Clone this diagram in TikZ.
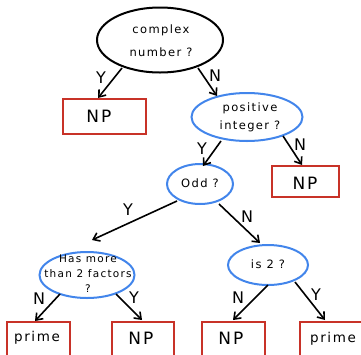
\documentclass[tikz,border=0pt]{standalone}
\usepackage{fontspec}
\setmainfont{DejaVu Sans}
\newfontfamily\hand[LetterSpace=12]{DejaVu Sans}
\usetikzlibrary{shapes.geometric,arrows.meta}
\definecolor{qblue}{RGB}{66,133,235}
\definecolor{boxred}{RGB}{200,50,40}
\tikzset{
  qblack/.style={ellipse,draw=black,line width=2pt,inner sep=0pt},
  qnode/.style={ellipse,draw=qblue,line width=2pt,inner sep=0pt},
  qtext/.style={align=center,inner sep=0pt,font=\hand\fontsize{11.5}{18}\selectfont},
  ans/.style={rectangle,draw=boxred,line width=1.8pt,inner sep=0pt},
  anstext/.style={inner sep=0pt,font=\hand\fontsize{17}{19}\selectfont},
  primetext/.style={inner sep=0pt,font=\hand\fontsize{13.5}{15}\selectfont},
  conn/.style={-{Straight Barb[length=6pt,width=9pt]},line width=1.6pt},
  lbl/.style={font=\fontsize{16}{18}\selectfont}
}
\begin{document}
\begin{tikzpicture}[x=1pt,y=-1pt]
\clip (0,0) rectangle (361,354);
\useasboundingbox (0,0) rectangle (361,354);
% questions
\node[qblack,minimum width=126pt,minimum height=65pt] (c) at (160,40) {};
\node[qtext,font=\hand\fontsize{11.5}{23}\selectfont] (ct) at (161,41) {complex\\number ?};
\node[qnode,minimum width=111pt,minimum height=48pt] (p) at (247,117) {};
\node[qtext] (pt) at (250,117) {positive\\integer ?};
\node[qnode,minimum width=66pt,minimum height=40pt] (o) at (200,184) {};
\node[qtext] (ot) at (200,183) {Odd ?};
\node[qnode,minimum width=95pt,minimum height=46pt] (h) at (87,275) {};
\node[qtext,font=\hand\fontsize{10.5}{15}\selectfont] (ht) at (88,274) {Has more\\than 2 factors\\?};
\node[qnode,minimum width=80pt,minimum height=40pt] (t) at (268,265) {};
\node[qtext] (tt) at (268,264) {is 2 ?};
% answers
\node[ans,minimum width=83pt,minimum height=35pt] (a1) at (104.5,116.5) {};
\node[anstext] (a1t) at (99,116) {NP};
\node[ans,minimum width=67pt,minimum height=31pt] (a2) at (305.5,181.5) {};
\node[anstext] (a2t) at (305,183) {NP};
\node[ans,minimum width=63pt,minimum height=40pt] (b1) at (38.5,342) {};
\node[primetext] (b1t) at (37,338) {prime};
\node[ans,minimum width=62pt,minimum height=40pt] (b2) at (143,342) {};
\node[anstext] (b2t) at (141,338) {NP};
\node[ans,minimum width=63pt,minimum height=40pt] (b3) at (233.5,342) {};
\node[anstext] (b3t) at (231,338) {NP};
\node[ans,minimum width=64pt,minimum height=40pt] (b4) at (332,342) {};
\node[primetext] (b4t) at (333,339) {prime};
% connectors
\coordinate (c1s) at (122,68); \coordinate (c1e) at (98,98);
\coordinate (c2s) at (198,68); \coordinate (c2e) at (217,96);
\coordinate (p1s) at (221,141); \coordinate (p1e) at (203,166);
\coordinate (p2s) at (283,136); \coordinate (p2e) at (302,165);
\coordinate (o1s) at (177,201); \coordinate (o1e) at (92,240);
\coordinate (o2s) at (219,204); \coordinate (o2e) at (260,243);
\coordinate (h1s) at (60,294); \coordinate (h1e) at (35,321);
\coordinate (h2s) at (116,294); \coordinate (h2e) at (142,320);
\coordinate (t1s) at (268,285); \coordinate (t1e) at (233,320);
\coordinate (t2s) at (295,282); \coordinate (t2e) at (325,320);
\draw[conn] (c1s) -- (c1e);
\draw[conn] (c2s) -- (c2e);
\draw[conn] (p1s) -- (p1e);
\draw[conn] (p2s) -- (p2e);
\draw[conn] (o1s) -- (o1e);
\draw[conn] (o2s) -- (o2e);
\draw[conn] (h1s) -- (h1e);
\draw[conn] (h2s) -- (h2e);
\draw[conn] (t1s) -- (t1e);
\draw[conn] (t2s) -- (t2e);
% labels
\node[lbl] (l1) at (101,78) {Y};
\node[lbl] (l2) at (215,76) {N};
\node[lbl] (l3) at (202,149) {Y};
\node[lbl] (l4) at (300,145) {N};
\node[lbl] (l5) at (128,210) {Y};
\node[lbl] (l6) at (247,217) {N};
\node[lbl] (l7) at (39,299) {N};
\node[lbl] (l8) at (134,298) {Y};
\node[lbl] (l9) at (238,298) {N};
\node[lbl] (l10) at (316,295) {Y};
\end{tikzpicture}
\end{document}
